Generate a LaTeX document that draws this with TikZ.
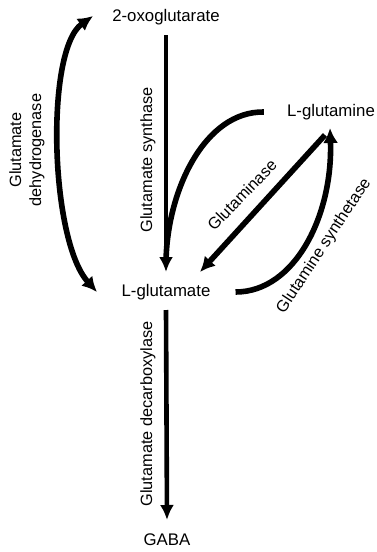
\documentclass[tikz,border=0pt]{standalone}
\usepackage{fontspec}
\setmainfont{Liberation Sans}
\usetikzlibrary{arrows.meta}
\begin{document}
\begin{tikzpicture}[
    x=1pt, y=-1pt,
    met_style/.style={font=\fontsize{16.8}{20}\selectfont, inner sep=2pt},
    enz_style/.style={font=\fontsize{16.3}{20}\selectfont, inner sep=0pt},
    flow_thin/.style={line width=4.6pt, -{Latex[length=15pt,width=14pt]}},
    flow_bold/.style={line width=5.6pt, -{Latex[length=15pt,width=15pt]}}
]
\useasboundingbox (0,0) rectangle (376,552);
% metabolites
\node[met_style] (oxo)  at (166,17)  {2-oxoglutarate};
\node[met_style] (glu)  at (166,292) {L-glutamate};
\node[met_style] (gln)  at (331,112) {L-glutamine};
\node[met_style] (gaba) at (167,540) {GABA};
% reactions
\draw[flow_thin] ([yshift=-18pt]oxo.center) -- ([yshift=20pt]glu.center);
\draw[line width=5.6pt] ([xshift=-21pt]gln.west) .. controls (205,111) and (167,190) .. ([yshift=30pt]glu.center);
\draw[flow_bold] ([xshift=-6pt,yshift=-23pt]gln.center) -- ([xshift=34pt,yshift=20pt]glu.center);
\draw[flow_bold] ([xshift=23pt]glu.east) .. controls (295,292) and (333,215) .. ([xshift=-1pt,yshift=-16pt]gln.center);
\draw[line width=5.6pt, {Latex[length=15pt,width=15pt]}-{Latex[length=15pt,width=15pt]}]
    ([xshift=-69pt]glu.center) .. controls (50,240) and (45,50) .. ([xshift=-73pt,yshift=1pt]oxo.center);
\draw[flow_thin] ([yshift=-18pt]glu.center) -- ([yshift=20pt]gaba.center);
% enzymes
\node[enz_style, align=center, rotate=90] (gdh) at (27,150) {Glutamate\\dehydrogenase};
\node[enz_style, rotate=90] (gs)  at (148,160) {Glutamate synthase};
\node[enz_style, rotate=46] (gls) at (242,195) {Glutaminase};
\node[enz_style, rotate=56.5] (gns) at (324,246) {Glutamine synthetase};
\node[enz_style, rotate=90] (gad) at (148,414) {Glutamate decarboxylase};
\end{tikzpicture}
\end{document}
